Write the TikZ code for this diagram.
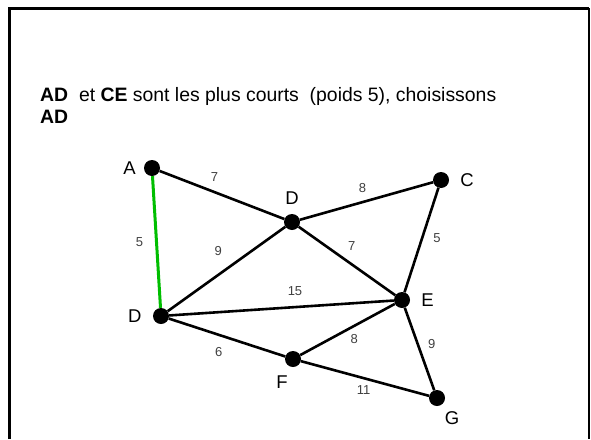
\documentclass[tikz,border=0pt]{standalone}
\usepackage{fontspec}
\setmainfont{Liberation Sans}
\usetikzlibrary{positioning}
\definecolor{adgreen}{RGB}{0,190,0}
\tikzset{
  vertex/.style={circle,fill=black,minimum size=16pt,inner sep=0pt},
  vlabel/.style={inner sep=0pt,font=\fontsize{18.5}{18.5}\selectfont},
  weight/.style={inner sep=1pt,text=black!75,font=\fontsize{13}{13}\selectfont},
  every edge/.style={draw,line width=2.6pt},
}

\begin{document}
\begin{tikzpicture}[x=1pt,y=-1pt]

\useasboundingbox (0,0) rectangle (591,439);
\fill[white] (0,0) rectangle (591,439);

% frame
\draw[line width=3pt] (9.5,439) -- (9.5,8) -- (589,8);
\draw[line width=1.5pt] (589,8) -- (589,439);

\node[anchor=base west,align=left,inner sep=0pt,
  font=\fontsize{19.4}{22}\selectfont] (txt) at (40,123)
  {\textbf{AD}\ \ et \textbf{CE} sont les plus courts\ \ (poids 5), choisissons\\\textbf{AD}};

\node[vertex] (a) at (152,168) {};
\node[vertex] (b) at (292,222) {};
\node[vertex] (c) at (441,180) {};
\node[vertex] (e) at (402,300) {};
\node[vertex] (d) at (161,316) {};
\node[vertex] (f) at (293,359) {};
\node[vertex] (g) at (437,398) {};

\node[vlabel,left=8pt of a] (la) {A};
\node[vlabel,above=9pt of b] (lb) {D};
\node[vlabel,right=11pt of c] (lc) {C};
\node[vlabel,right=11pt of e] (le) {E};
\node[vlabel,left=11pt of d] (ld) {D};
\node[vlabel,below=8pt of f,xshift=-11pt] (lf) {F};
\node[vlabel,below=5pt of g,xshift=15pt] (lg) {G};

\path
(a) edge node[weight,pos=.44,above=8pt] (wab) {7} (b)
(b) edge node[weight,pos=.47,above=7pt] (wbc) {8} (c)
(a) edge[draw=adgreen,line width=3pt] node[weight,pos=.5,left=11pt] (wad) {5} (d)
(d) edge node[weight,pos=.43,above=17pt] (wdb) {9} (b)
(b) edge node[weight,pos=.55,above=12pt] (wbe) {7} (e)
(c) edge node[weight,pos=.48,right=9pt] (wce) {5} (e)
(d) edge node[weight,pos=.56,above=9pt] (wde) {15} (e)
(d) edge node[weight,pos=.43,below=10pt] (wdf) {6} (f)
(f) edge node[weight,pos=.57,below=6pt] (wfe) {8} (e)
(e) edge node[weight,pos=.44,right=8pt] (weg) {9} (g)
(f) edge node[weight,pos=.49,below=5pt] (wfg) {11} (g);

\end{tikzpicture}
\end{document}
